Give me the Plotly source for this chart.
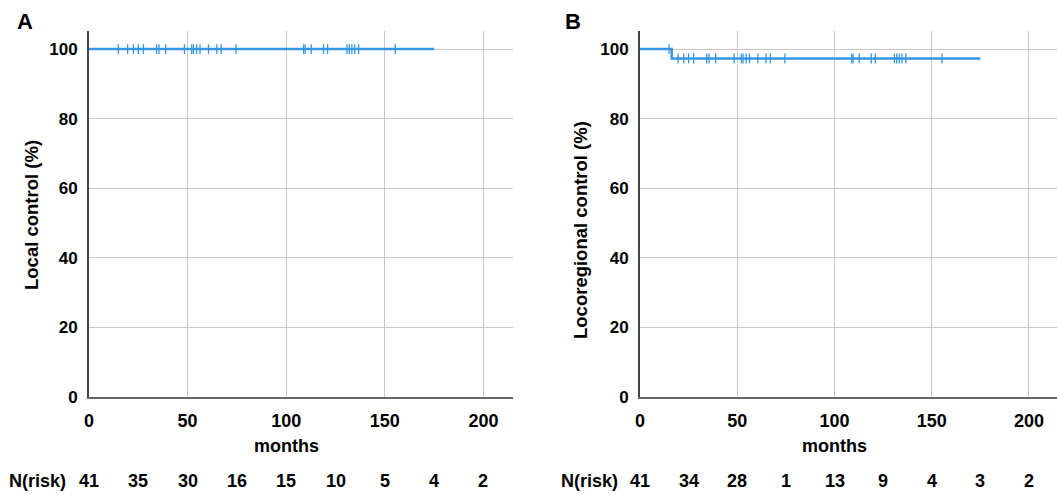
import plotly.graph_objects as go

# ---- data ----
censor_months = [14.9, 19.6, 22.5, 25.0, 27.6, 34.3, 35.5, 38.9, 48.4, 52.1, 53.0, 54.6,
                 56.3, 60.6, 64.8, 67.0, 74.5, 108.8, 109.6, 112.7, 118.9, 121.0, 130.8,
                 132.0, 133.3, 134.7, 136.7, 155.3]
followup_end = 175

a_times = [0, followup_end]
a_surv = [100, 100]

b_times = [0, 16.3, followup_end]
b_surv = [100, 97.3, 97.3]

risk_times = [0, 25, 50, 75, 100, 125, 150, 175, 200]
risk_a = [41, 35, 30, 16, 15, 10, 5, 4, 2]
risk_b = [41, 34, 28, 1, 13, 9, 4, 3, 2]

xticks = [0, 50, 100, 150, 200]
yticks = [0, 20, 40, 60, 80, 100]

BLUE = "#3796e2"
FONT = "Liberation Sans"
W, H = 1057, 495

def surv_at(times, surv, t):
    val = surv[0]
    for ti, si in zip(times, surv):
        if t >= ti:
            val = si
    return val

fig = go.Figure()

cmark = dict(symbol="line-ns-open", size=7, color=BLUE, line=dict(width=1.3, color=BLUE))
# Panel A
fig.add_trace(go.Scatter(x=a_times, y=a_surv, mode="lines", line=dict(color=BLUE, width=2.5, shape="hv"),
                         xaxis="x", yaxis="y", showlegend=False))
fig.add_trace(go.Scatter(x=censor_months, y=[surv_at(a_times, a_surv, t) for t in censor_months],
                         mode="markers", marker=cmark, xaxis="x", yaxis="y", showlegend=False))
# Panel B
fig.add_trace(go.Scatter(x=b_times, y=b_surv, mode="lines", line=dict(color=BLUE, width=2.5, shape="hv"),
                         xaxis="x2", yaxis="y2", showlegend=False))
fig.add_trace(go.Scatter(x=censor_months, y=[surv_at(b_times, b_surv, t) for t in censor_months],
                         mode="markers", marker=cmark, xaxis="x2", yaxis="y2", showlegend=False))

ydom = [1 - 397 / H, 1 - 31 / H]
common_x = dict(tickvals=xticks, showgrid=True, gridcolor="#c8c8c8", gridwidth=1,
                showline=True, linecolor="#666666", linewidth=1.5, zeroline=False, automargin=False,
                tickfont=dict(family=FONT, size=18, color="black", weight="bold"),
                ticks="", ticklabelstandoff=7)
common_y = dict(tickvals=yticks, range=[0, 105.2], showgrid=True, gridcolor="#c8c8c8", gridwidth=1,
                showline=True, linecolor="#444444", linewidth=2, zeroline=False, domain=ydom, automargin=False,
                tickfont=dict(family=FONT, size=17, color="black", weight="bold"),
                ticks="", ticklabelstandoff=6)

fig.update_layout(
    width=W, height=H, margin=dict(l=0, r=0, t=0, b=0, autoexpand=False),
    paper_bgcolor="white", plot_bgcolor="white",
    xaxis=dict(domain=[89 / W, 513 / W], range=[0, 215], anchor="y", **common_x),
    yaxis=dict(anchor="x", **common_y),
    xaxis2=dict(domain=[640 / W, 1.0], range=[0, 214.4], anchor="y2", **common_x),
    yaxis2=dict(anchor="x2", **common_y),
)

ann = []
def txt(text, x, y, xref="paper", size=18, angle=0, xanchor="center"):
    ann.append(dict(text=text, x=x, y=y, xref=xref, yref="paper", showarrow=False,
                    textangle=angle, xanchor=xanchor, yanchor="middle",
                    font=dict(family=FONT, size=size, color="black", weight="bold")))

txt("A", 25 / W, 1 - 21 / H, size=22)
txt("B", 573 / W, 1 - 22 / H, size=22)
txt("Local control (%)", 31 / W, 1 - 215 / H, size=18.5, angle=-90)
txt("Locoregional control (%)", 580 / W, 1 - 230 / H, size=18.5, angle=-90)
txt("months", 100, 1 - 446 / H, xref="x")
txt("months", 100, 1 - 446 / H, xref="x2")
txt("N(risk)", 37 / W, 1 - 481 / H)
txt("N(risk)", 589 / W, 1 - 481 / H)
for t, n in zip(risk_times, risk_a):
    txt(str(n), t, 1 - 481 / H, xref="x")
for t, n in zip(risk_times, risk_b):
    txt(str(n), t, 1 - 481 / H, xref="x2")

fig.update_layout(annotations=ann)
fig.write_html("out.html", config={"displayModeBar": False},
               post_script="document.body.style.margin='0';document.body.style.overflow='hidden';")
